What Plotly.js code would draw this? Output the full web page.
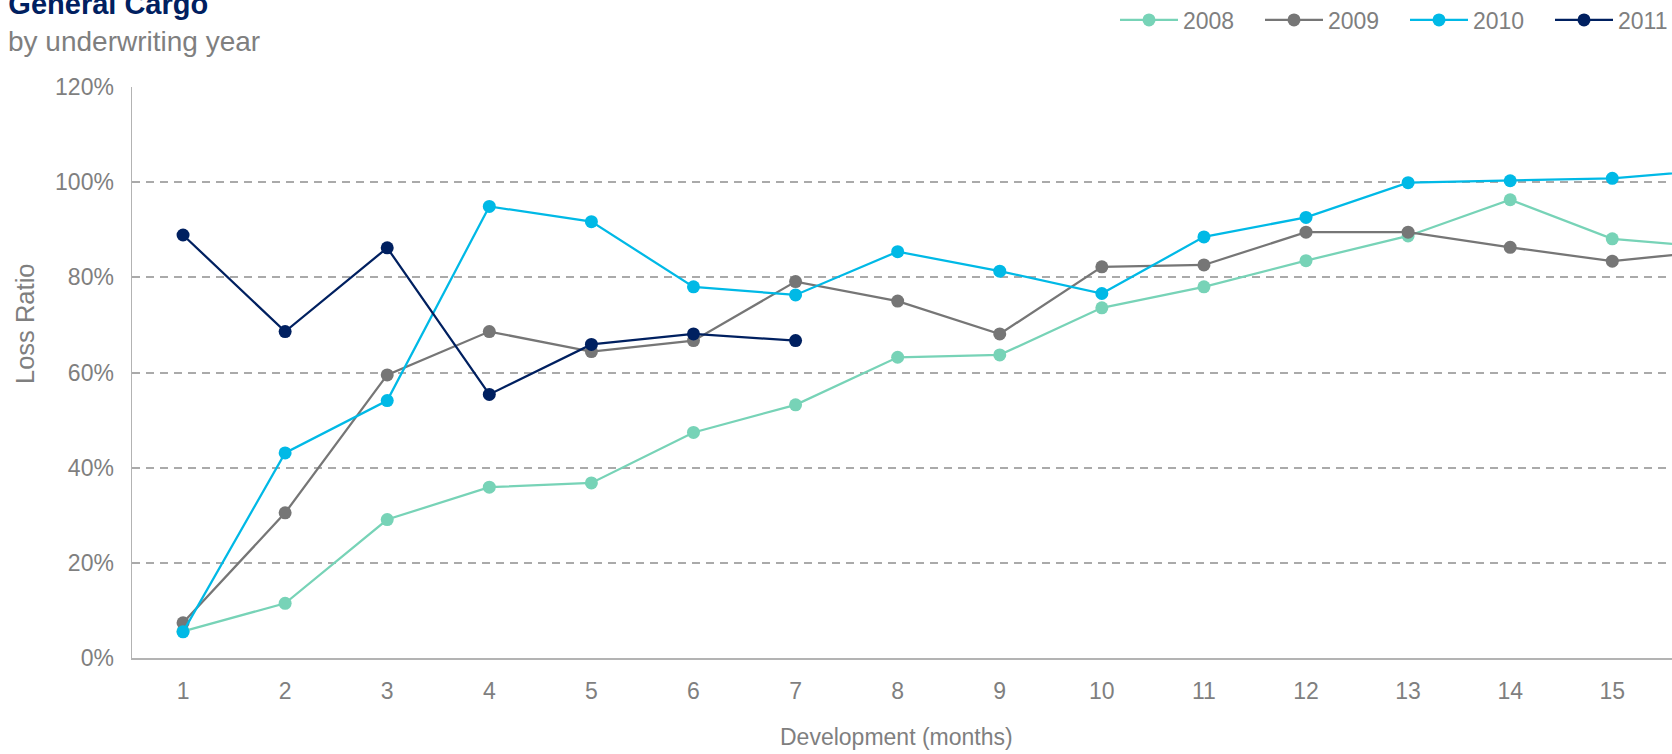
<!DOCTYPE html>
<html>
<head>
<meta charset="utf-8">
<script src="https://cdn.plot.ly/plotly-3.0.1.min.js"></script>
<style>
  html, body { margin: 0; padding: 0; background: #ffffff; }
  #chart { width: 1672px; height: 754px; }
</style>
</head>
<body>
<div id="chart"></div>
<script>
// Development periods (months)
const months = [1, 2, 3, 4, 5, 6, 7, 8, 9, 10, 11, 12, 13, 14, 15, 16];

// Loss ratio (%) by underwriting year
const year2008 = [5.6, 11.5, 29.1, 35.9, 36.8, 47.4, 53.2, 63.2, 63.7, 73.6, 78.0, 83.5, 88.7, 96.3, 88.1, 86.3];
const year2009 = [7.4, 30.5, 59.5, 68.6, 64.4, 66.7, 79.1, 75.0, 68.1, 82.2, 82.6, 89.5, 89.5, 86.3, 83.4, 85.6];
const year2010 = [5.5, 43.1, 54.1, 94.9, 91.7, 78.0, 76.3, 85.4, 81.3, 76.6, 88.5, 92.6, 99.9, 100.3, 100.8, 102.6];
const year2011 = [88.9, 68.6, 86.2, 55.4, 65.9, 68.1, 66.7];

const seriesNames = ['2008', '2009', '2010', '2011'];
const seriesValues = [year2008, year2009, year2010, year2011];
const seriesColors = ['#77d3b7', '#767676', '#00b9e6', '#002060'];

const yTicks = [0, 20, 40, 60, 80, 100, 120];
const xTicks = [1, 2, 3, 4, 5, 6, 7, 8, 9, 10, 11, 12, 13, 14, 15];

const FONT = 'Liberation Sans, Arial, sans-serif';
const GREY_TEXT = '#7f7f7f';
const AXIS = '#b3b3b3';
const GRID = '#aaaaaa';

// Plot area in pixels, used to place free text relative to it
const PLOT_L = 132, PLOT_T = 87, PLOT_W = 1540, PLOT_H = 571;
const px2x = px => (px - PLOT_L) / PLOT_W;
const px2y = py => (PLOT_T + PLOT_H - py) / PLOT_H;

const traces = seriesNames.map((name, i) => ({
  type: 'scatter',
  mode: 'lines+markers',
  name: name,
  x: months.slice(0, seriesValues[i].length),
  y: seriesValues[i],
  line: { color: seriesColors[i], width: 2.25 },
  marker: { color: seriesColors[i], size: 13, symbol: 'circle' },
  hovertemplate: name + '<br>Month %{x}: %{y:.1f}%<extra></extra>'
}));

const layout = {
  width: 1672,
  height: 754,
  margin: { l: PLOT_L, r: 0, t: PLOT_T, b: 754 - PLOT_T - PLOT_H, pad: 0 },
  paper_bgcolor: '#ffffff',
  plot_bgcolor: '#ffffff',
  font: { family: FONT, color: GREY_TEXT, size: 23 },
  title: {
    text: '<b>General Cargo</b>',
    font: { family: FONT, size: 29, color: '#002060' },
    xref: 'container', yref: 'container',
    x: 0.005, xanchor: 'left',
    y: 0.9944, yanchor: 'middle'
  },
  annotations: [
    {
      text: 'by underwriting year',
      xref: 'paper', yref: 'paper',
      x: px2x(6), xanchor: 'left',
      y: px2y(41), yanchor: 'middle',
      showarrow: false,
      font: { family: FONT, size: 28, color: GREY_TEXT }
    },
    {
      text: 'Loss Ratio',
      xref: 'paper', yref: 'paper',
      x: px2x(25), xanchor: 'center',
      y: px2y(324), yanchor: 'middle',
      textangle: -90,
      showarrow: false,
      font: { family: FONT, size: 25.5, color: GREY_TEXT }
    },
    {
      text: 'Development (months)',
      xref: 'paper', yref: 'paper',
      x: px2x(896), xanchor: 'center',
      y: px2y(737), yanchor: 'middle',
      showarrow: false,
      font: { family: FONT, size: 23, color: GREY_TEXT }
    }
  ],
  showlegend: true,
  legend: {
    orientation: 'h',
    xref: 'container', yref: 'container',
    x: 1115 / 1672, xanchor: 'left',
    y: 1 - 20 / 754, yanchor: 'middle',
    font: { family: FONT, size: 23, color: GREY_TEXT },
    itemwidth: 58,
    entrywidth: 72,
    entrywidthmode: 'pixels',
    bgcolor: 'rgba(0,0,0,0)',
    traceorder: 'normal'
  },
  xaxis: {
    range: [0.5, 15.585],
    tickmode: 'array',
    tickvals: xTicks,
    ticktext: xTicks.map(String),
    showgrid: false,
    zeroline: false,
    showline: true,
    linecolor: AXIS,
    linewidth: 1.5,
    ticks: '',
    ticklabelstandoff: 12,
    tickfont: { family: FONT, size: 23, color: GREY_TEXT },
    fixedrange: true
  },
  yaxis: {
    range: [0, 120],
    tickmode: 'array',
    tickvals: yTicks,
    ticktext: yTicks.map(v => v + '%'),
    showgrid: true,
    gridcolor: GRID,
    gridwidth: 2,
    griddash: '8px,6px',
    zeroline: false,
    showline: true,
    linecolor: AXIS,
    linewidth: 1.5,
    ticks: '',
    ticklabelstandoff: 12,
    tickfont: { family: FONT, size: 23, color: GREY_TEXT },
    fixedrange: true
  }
};

Plotly.newPlot('chart', traces, layout, { displayModeBar: false, staticPlot: true });
</script>
</body>
</html>
